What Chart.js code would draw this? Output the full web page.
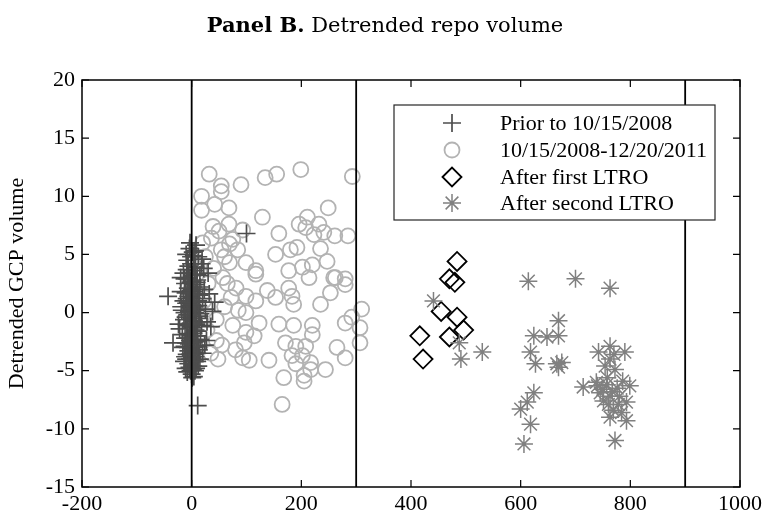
<!DOCTYPE html>
<html><head><meta charset="utf-8">
<script src="https://cdn.jsdelivr.net/npm/chart.js@4.4.1/dist/chart.umd.min.js"></script>
<style>html,body{margin:0;padding:0;background:#fff}#wrap{width:766px;height:522px}</style>
</head><body><div id="wrap"><canvas id="c" width="766" height="522"></canvas></div>
<script>
// ---------- DATA ----------
const xTicks = [-200, 0, 200, 400, 600, 800, 1000];
const yTicks = [-15, -10, -5, 0, 5, 10, 15, 20];
const seriesNames = ['Prior to 10/15/2008', '10/15/2008-12/20/2011', 'After first LTRO', 'After second LTRO'];
const vLines = [0, 300, 900];

const priorPts = [[-43,1.4],[-34,-2.6],[11,-8.0],[100,6.8],[30,3.4],[38,0.1],[42,0.9],[27,-2.4],[2,5.2],[8,5.8],
[-3,6.0],[12,4.8],[-8,4.5],[18,4.2],[22,3.8],[-15,3.4],[5,3.6],[-5,3.0],[10,2.8],[-12,2.5],
[15,2.2],[0,2.0],[-20,1.8],[8,1.6],[-6,1.4],[20,1.2],[3,1.0],[-10,0.8],[12,0.6],[-2,0.4],
[25,0.3],[-18,0.2],[6,0.0],[-8,-0.2],[14,-0.3],[0,-0.5],[-14,-0.6],[9,-0.8],[-4,-1.0],[18,-1.1],
[2,-1.3],[-22,-1.4],[11,-1.6],[-7,-1.8],[5,-2.0],[-12,-2.2],[16,-2.3],[0,-2.5],[-5,-2.7],[8,-2.9],
[-16,-3.0],[13,-3.2],[3,-3.4],[-9,-3.6],[7,-3.8],[-3,-4.0],[10,-4.2],[-6,-4.4],[2,-4.6],[-11,-4.8],
[6,-5.0],[0,-5.3],[-4,5.5],[4,4.9],[-1,4.2],[7,3.9],[-9,3.7],[1,3.2],[-2,2.6],[6,2.4],
[-7,2.1],[3,1.8],[-15,1.0],[9,0.9],[-3,0.6],[16,-0.1],[-11,-0.4],[4,-0.7],[-1,-1.2],[7,-1.5],
[-17,-1.9],[10,-2.0],[-3,-2.4],[5,-3.0],[-6,-3.3],[1,-3.9],[12,-4.6],[-8,-5.1],[4,-5.5],[-2,-0.9],
[2,2.2],[-4,1.6],[14,1.5],[-13,-2.9],[20,-3.5],[-19,0.5],[23,2.0],[-24,-1.0],[19,4.6],[28,-0.8],
[-20,3.0],[24,-2.8],[15,-4.0],[-14,-4.2],[32,1.6],[35,-1.2],
[-10,5.0],[6,5.3],[-6,4.0],[10,3.3],[-13,2.9],[1,2.7],[11,2.0],[-9,1.2],[0,1.3],[5,0.5],
[-5,0.1],[13,-0.5],[-9,-1.1],[3,-1.8],[-2,-2.0],[9,-2.5],[-10,-2.6],[4,-2.6],[-1,-3.1],[10,-3.5],
[-12,-3.8],[3,-4.2],[-4,-4.7],[8,-4.8],[-2,-5.0],[1,-5.6],[-7,0.9],[7,0.2],[-1,-0.2],[12,1.0],
[-5,3.4],[4,4.2],[-13,0.0],[8,-1.0],[-8,2.9],[2,-4.9],[-1,4.8],[5,-3.6],[-7,-3.0],[15,3.2],
[-11,1.7],[6,-4.2],[-3,-3.6],[1,0.7],[-6,-2.2],[9,2.6],[-2,1.9],[3,-1.0],[11,-2.9],[-10,-4.0]];

const midPts = [[32,11.9],[54,10.9],[54,10.4],[90,11.0],[134,11.6],[155,11.9],[199,12.3],[293,11.7],
[18,10.0],[18,8.8],[42,9.3],[68,9.0],[129,8.2],[249,9.0],
[39,7.4],[68,7.6],[93,7.1],[159,6.8],[196,7.6],[211,8.2],[208,7.3],[232,7.6],[223,6.7],[241,6.9],[261,6.6],[285,6.6],
[36,6.4],[69,5.9],[54,5.4],[84,5.4],[153,5.0],[180,5.4],[192,5.6],[235,5.5],[247,4.4],[220,4.1],[202,3.9],[177,3.6],
[99,4.3],[117,3.6],[69,4.3],[262,3.0],[280,2.9],
[57,3.0],[117,3.3],[81,2.1],[72,1.3],[99,1.4],[117,1.0],[138,1.9],[153,1.3],[177,2.1],[183,1.4],[186,0.7],
[214,3.0],[259,3.0],[280,2.4],[253,1.7],[235,0.7],[310,0.3],[292,-0.4],[280,-0.9],[307,-1.3],[307,-2.6],[265,-3.0],[280,-3.9],
[45,-0.6],[75,-1.1],[99,-1.7],[114,-2.0],[96,-2.6],[45,-2.4],[123,-0.9],[99,0.0],[159,-1.0],[186,-1.1],[220,-1.1],[220,-1.9],
[171,-2.6],[190,-2.9],[208,-2.9],[183,-3.7],[202,-3.7],[93,-3.9],[105,-4.1],[141,-4.1],[190,-4.4],[217,-4.3],[217,-4.9],
[244,-4.9],[168,-5.6],[205,-5.4],[205,-5.9],[165,-7.9],
[20,6.0],[25,4.8],[30,2.5],[22,1.0],[28,-1.5],[35,-3.5],[48,-4.0],[60,0.5],[55,-2.8],[65,2.5],[85,0.2],[80,-3.2],
[60,4.8],[40,3.8],[75,6.3],[50,7.0]];

const ltro1Pts = [[484,4.4],[470,2.9],[480,2.6],[455,0.1],[484,-0.4],[496,-1.5],[470,-2.1],[416,-2.0],[422,-4.0]];

const ltro2Pts = [[441,1.0],[488,-2.6],[491,-4.0],[530,-3.4],[614,2.7],[700,2.9],[763,2.1],[669,-0.7],[624,-2.0],[648,-2.1],
[669,-2.0],[618,-3.4],[627,-4.4],[666,-4.4],[675,-4.3],[669,-4.7],
[763,-2.9],[742,-3.4],[790,-3.4],[763,-4.0],[772,-4.9],[714,-6.4],[738,-6.0],[757,-6.2],[799,-6.3],[745,-6.9],
[763,-7.2],[751,-7.6],[778,-7.9],[793,-7.7],[769,-8.4],[784,-8.6],[763,-9.0],[793,-9.3],[772,-11.0],
[624,-6.9],[612,-7.7],[600,-8.3],[618,-9.6],[606,-11.3],
[750,-6.6],[758,-5.6],[767,-6.8],[780,-7.2],[740,-6.3],[786,-5.9],[770,-3.6],[754,-4.6],[760,-7.9],[776,-6.5]];

// ---------- STYLE ----------
const SERIF = '"Liberation Serif", "Times New Roman", serif';
const styles = [
  {pointStyle:'cross', radius:9, color:'#4d4d4d', width:1.7},
  {pointStyle:'circle', radius:7.5, color:'#b3b3b3', width:1.8},
  {pointStyle:'rectRot', radius:9.5, color:'#000000', width:1.8},
  {pointStyle:'star', radius:9, color:'#808080', width:1.5}
];
const toXY = a => a.map(p => ({x:p[0], y:p[1]}));
const seriesData = [priorPts, midPts, ltro1Pts, ltro2Pts];
const drawOrder = [1, 3, 4, 2]; // higher = drawn earlier

const datasets = [];
vLines.forEach(v => datasets.push({
  type:'line', data:[{x:v,y:yTicks[0]},{x:v,y:yTicks[yTicks.length-1]}],
  borderColor:'#000', borderWidth:1.8, pointRadius:0, order:0, fill:false
}));
seriesData.forEach((d,i) => {
  const s = styles[i];
  datasets.push({
    type:'scatter', label:seriesNames[i], data:toXY(d), order:drawOrder[i],
    pointStyle:s.pointStyle, pointRadius:s.radius, pointHoverRadius:s.radius,
    pointBorderColor:s.color, pointBackgroundColor:'rgba(0,0,0,0)',
    borderColor:s.color, pointBorderWidth:s.width, backgroundColor:'rgba(0,0,0,0)'
  });
});

const framePlugin = {
  id:'frame',
  afterDraw(chart){
    const {ctx, chartArea:a, scales:{x, y}} = chart;
    ctx.save();
    // ticks (inward, all four sides)
    ctx.strokeStyle = '#000'; ctx.lineWidth = 1.2;
    ctx.beginPath();
    const tl = 7;
    xTicks.forEach(v => { const p = x.getPixelForValue(v);
      ctx.moveTo(p, a.bottom); ctx.lineTo(p, a.bottom - tl);
      ctx.moveTo(p, a.top); ctx.lineTo(p, a.top + tl); });
    yTicks.forEach(v => { const p = y.getPixelForValue(v);
      ctx.moveTo(a.left, p); ctx.lineTo(a.left + tl, p);
      ctx.moveTo(a.right, p); ctx.lineTo(a.right - tl, p); });
    ctx.stroke();
    ctx.lineWidth = 1.5;
    ctx.strokeRect(a.left, a.top, a.right - a.left, a.bottom - a.top);

    // legend
    const L = {left:394, top:105, right:715, bottom:220};
    ctx.fillStyle = '#fff';
    ctx.fillRect(L.left, L.top, L.right - L.left, L.bottom - L.top);
    ctx.strokeStyle = '#262626'; ctx.lineWidth = 1.2;
    ctx.strokeRect(L.left, L.top, L.right - L.left, L.bottom - L.top);
    const rowY = [123, 150, 177, 203];
    ctx.font = '22px ' + SERIF;
    ctx.textBaseline = 'middle'; ctx.textAlign = 'left';
    seriesNames.forEach((name, i) => {
      const s = styles[i];
      ctx.strokeStyle = s.color; ctx.fillStyle = 'rgba(0,0,0,0)';
      ctx.lineWidth = s.width;
      Chart.helpers.drawPoint(ctx, {pointStyle:s.pointStyle, radius:s.radius, borderWidth:s.width, rotation:0}, 452, rowY[i]);
      ctx.fillStyle = '#000';
      ctx.fillText(name, 500, rowY[i] + 1);
    });

    // title
    const t1 = 'Panel B.', t2 = ' Detrended repo volume';
    const fb = 'bold 21px "DejaVu Serif", serif', fn = '21px "DejaVu Serif", serif';
    ctx.font = fb; const w1 = ctx.measureText(t1).width;
    ctx.font = fn; const w2 = ctx.measureText(t2).width;
    const sx = 385 - (w1 + w2) / 2;
    ctx.textBaseline = 'alphabetic'; ctx.fillStyle = '#000';
    ctx.font = fb; ctx.fillText(t1, sx, 32);
    ctx.font = fn; ctx.fillText(t2, sx + w1, 32);
    ctx.restore();
  }
};

new Chart(document.getElementById('c'), {
  data:{datasets},
  options:{
    responsive:false, animation:false, devicePixelRatio:1,
    layout:{padding:{left:0, right:26, top:80, bottom:0}},
    plugins:{legend:{display:false}, tooltip:{enabled:false}, title:{display:false}},
    scales:{
      x:{type:'linear', min:xTicks[0], max:xTicks[xTicks.length-1],
        afterBuildTicks(s){ s.ticks = xTicks.map(v => ({value:v})); },
        afterFit(s){ s.height = 35; },
        grid:{display:false, drawTicks:false}, border:{display:false},
        ticks:{color:'#000', padding:4, maxRotation:0, autoSkip:false, font:{family:SERIF, size:22},
          callback:v => String(v)}
      },
      y:{type:'linear', min:yTicks[0], max:yTicks[yTicks.length-1],
        afterBuildTicks(s){ s.ticks = yTicks.map(v => ({value:v})); },
        afterFit(s){ s.width = 82; },
        grid:{display:false, drawTicks:false}, border:{display:false},
        ticks:{color:'#000', padding:7, autoSkip:false, font:{family:SERIF, size:22},
          callback:v => String(v)},
        title:{display:true, text:'Detrended GCP volume', color:'#000', font:{family:SERIF, size:22}, padding:{top:4, bottom:0}}
      }
    }
  },
  plugins:[framePlugin]
});
</script>
</body></html>
